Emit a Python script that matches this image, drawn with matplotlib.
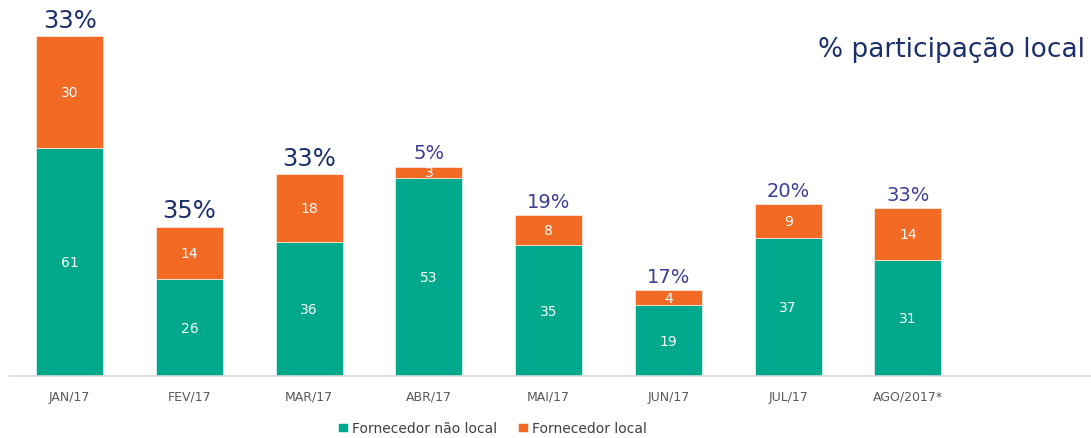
import matplotlib
matplotlib.use('Agg')
from matplotlib import pyplot as plt
import numpy as np

meses = ['JAN/17', 'FEV/17', 'MAR/17', 'ABR/17', 'MAI/17', 'JUN/17', 'JUL/17', 'AGO/2017*']
nao_local = [61, 26, 36, 53, 35, 19, 37, 31]
local = [30, 14, 18, 3, 8, 4, 9, 14]
participacao = ['33%', '35%', '33%', '5%', '19%', '17%', '20%', '33%']

verde = '#00A88C'
laranja = '#F26A24'
azul_escuro = '#1B2F6B'
azul_claro = '#3D3D9A'

fig = plt.figure(figsize=(10.91, 4.39), dpi=100)
ax = fig.add_axes([0.009, 0.141, 0.99, 0.851])

x = np.arange(len(meses))
largura = 0.56
ax.bar(x, nao_local, largura, color=verde, label='Fornecedor não local', edgecolor='white', linewidth=0.4)
ax.bar(x, local, largura, bottom=nao_local, color=laranja, label='Fornecedor local', edgecolor='white', linewidth=0.4)

for i in range(len(meses)):
    ax.text(x[i], nao_local[i] / 2, str(nao_local[i]), ha='center', va='center', color='white', fontsize=10)
    ax.text(x[i], nao_local[i] + local[i] / 2, str(local[i]), ha='center', va='center', color='white', fontsize=10)
    total = nao_local[i] + local[i]
    if i < 3:
        ax.text(x[i], total + 1.2, participacao[i], ha='center', va='bottom', color=azul_escuro, fontsize=17.5)
    else:
        ax.text(x[i], total + 1.2, participacao[i], ha='center', va='bottom', color=azul_claro, fontsize=14)

ax.text(0.995, 0.875, '% participação local', transform=ax.transAxes, ha='right', va='center',
        color=azul_escuro, fontsize=19)

ax.set_xlim(-0.5, 8.52)
ax.set_ylim(0, 100)
ax.set_xticks(x)
ax.set_xticklabels(meses, fontsize=9, color='#595959')
ax.tick_params(axis='x', length=0, pad=10)
ax.set_yticks([])
for lado in ['top', 'right', 'left']:
    ax.spines[lado].set_visible(False)
ax.spines['bottom'].set_color('#D9D9D9')
ax.spines['bottom'].set_linewidth(1.2)

ax.legend(loc='upper center', bbox_to_anchor=(0.447, -0.088), ncol=2, frameon=False,
          fontsize=10, handlelength=0.7, handleheight=0.7, handletextpad=0.3, columnspacing=1.5,
          labelcolor='#404040')

fig.savefig('out.png', dpi=100)
plt.close()
